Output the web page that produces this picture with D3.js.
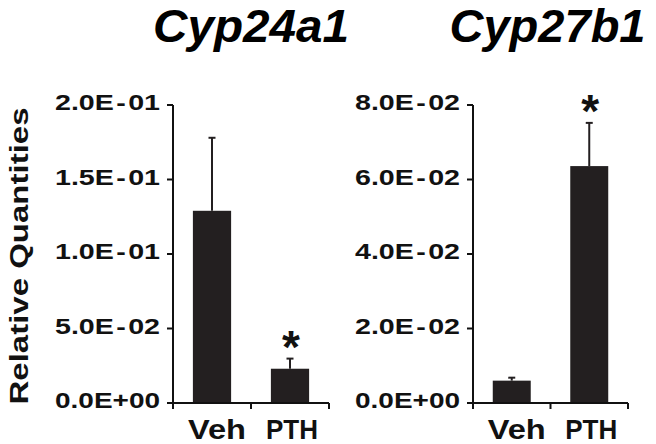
<!DOCTYPE html>
<html><head><meta charset="utf-8">
<script src="https://cdn.jsdelivr.net/npm/d3@7"></script>
<style>
html,body{margin:0;padding:0;background:#fff;}
svg{display:block;font-family:"Liberation Sans",Arial,sans-serif;}
</style></head>
<body><svg id="c" width="656" height="444"></svg>
<script>
const categories = ["Veh", "PTH"];
const titles = ["Cyp24a1", "Cyp27b1"];
const cyp24Means = [0.129, 0.023];
const cyp24Errors = [0.049, 0.0068];
const cyp27Means = [0.0060, 0.0636];
const cyp27Errors = [0.0008, 0.0116];
const cyp24Ticks = [0, 0.05, 0.10, 0.15, 0.20];
const cyp24TickLabels = ["0.0E+00", "5.0E-02", "1.0E-01", "1.5E-01", "2.0E-01"];
const cyp27Ticks = [0, 0.02, 0.04, 0.06, 0.08];
const cyp27TickLabels = ["0.0E+00", "2.0E-02", "4.0E-02", "6.0E-02", "8.0E-02"];
const significant = [[false, true], [false, true]];

const svg = d3.select("#c");
const panels = [
  {title: titles[0], means: cyp24Means, errs: cyp24Errors, ticks: cyp24Ticks, labels: cyp24TickLabels, sig: significant[0], x0: 173, x1: 329, max: 0.20, tdx: 0},
  {title: titles[1], means: cyp27Means, errs: cyp27Errors, ticks: cyp27Ticks, labels: cyp27TickLabels, sig: significant[1], x0: 473, x1: 628, max: 0.08, tdx: -3}
];
const yTop = 105, yBot = 403;
const barColor = "#231f20";

panels.forEach(p => {
  const g = svg.append("g");
  const x = d3.scaleBand().domain(categories).range([p.x0, p.x1]).padding(0);
  const y = d3.scaleLinear().domain([0, p.max]).range([yBot, yTop]);
  const bw = x.bandwidth() * 0.49;

  // bars
  g.selectAll("rect.bar").data(categories).join("rect")
    .attr("x", d => x(d) + x.bandwidth() / 2 - bw / 2)
    .attr("width", bw)
    .attr("y", (d, i) => y(p.means[i]))
    .attr("height", (d, i) => yBot - y(p.means[i]))
    .attr("fill", barColor);

  // error bars (upper only)
  categories.forEach((c, i) => {
    const cx = x(c) + x.bandwidth() / 2;
    const top = y(p.means[i] + p.errs[i]);
    g.append("line").attr("x1", cx).attr("x2", cx).attr("y1", y(p.means[i])).attr("y2", top)
      .attr("stroke", barColor).attr("stroke-width", 2);
    g.append("line").attr("x1", cx - 3.5).attr("x2", cx + 3.5).attr("y1", top).attr("y2", top)
      .attr("stroke", barColor).attr("stroke-width", 2);
    if (p.sig[i]) {
      g.append("text").attr("x", cx + 1).attr("y", top + 4)
        .attr("text-anchor", "middle").attr("font-size", 46).attr("font-weight", "bold")
        .attr("fill", "#111").text("*");
    }
  });

  // y axis
  g.append("line").attr("x1", p.x0).attr("x2", p.x0).attr("y1", yTop).attr("y2", yBot)
    .attr("stroke", "#111").attr("stroke-width", 2);
  p.ticks.forEach((t, i) => {
    g.append("line").attr("x1", p.x0 - 6).attr("x2", p.x0).attr("y1", y(t)).attr("y2", y(t))
      .attr("stroke", "#111").attr("stroke-width", 2);
    g.append("text").attr("x", p.x0 - 13).attr("y", y(t) + 5)
      .attr("text-anchor", "end").attr("font-size", 22).attr("font-weight", "bold")
      .attr("fill", "#111")
      .attr("textLength", 105).attr("lengthAdjust", "spacingAndGlyphs")
      .text(p.labels[i].replace("-", "\u200A-\u200A"));
  });

  // x axis
  g.append("line").attr("x1", p.x0 - 1).attr("x2", p.x1).attr("y1", yBot).attr("y2", yBot)
    .attr("stroke", "#111").attr("stroke-width", 2);
  const bounds = categories.map(c => x(c)).concat([x(categories[categories.length - 1]) + x.bandwidth()]);
  bounds.forEach(b => {
    g.append("line").attr("x1", b).attr("x2", b).attr("y1", yBot).attr("y2", yBot + 6)
      .attr("stroke", "#111").attr("stroke-width", 2);
  });
  g.selectAll("text.cat").data(categories).join("text")
    .attr("x", d => x(d) + x.bandwidth() / 2 + (d === "Veh" ? 5 : 2))
    .attr("y", 439)
    .attr("text-anchor", "middle").attr("font-size", 28).attr("font-weight", "bold")
    .attr("fill", "#111")
    .attr("textLength", d => d === "Veh" ? 58 : 52).attr("lengthAdjust", "spacingAndGlyphs")
    .text(d => d);

  // title
  g.append("text").attr("x", (p.x0 + p.x1) / 2 + p.tdx).attr("y", 41.5)
    .attr("text-anchor", "middle").attr("font-size", 46).attr("font-weight", "bold")
    .attr("font-style", "italic").attr("fill", "#000")
    .attr("textLength", 196).attr("lengthAdjust", "spacingAndGlyphs")
    .text(p.title);
});

// y-axis label
svg.append("text").attr("transform", "translate(28,256) rotate(-90)")
  .attr("text-anchor", "middle").attr("font-size", 26).attr("font-weight", "bold")
  .attr("fill", "#111").attr("textLength", 297).attr("lengthAdjust", "spacingAndGlyphs")
  .text("Relative Quantities");
</script></body></html>
